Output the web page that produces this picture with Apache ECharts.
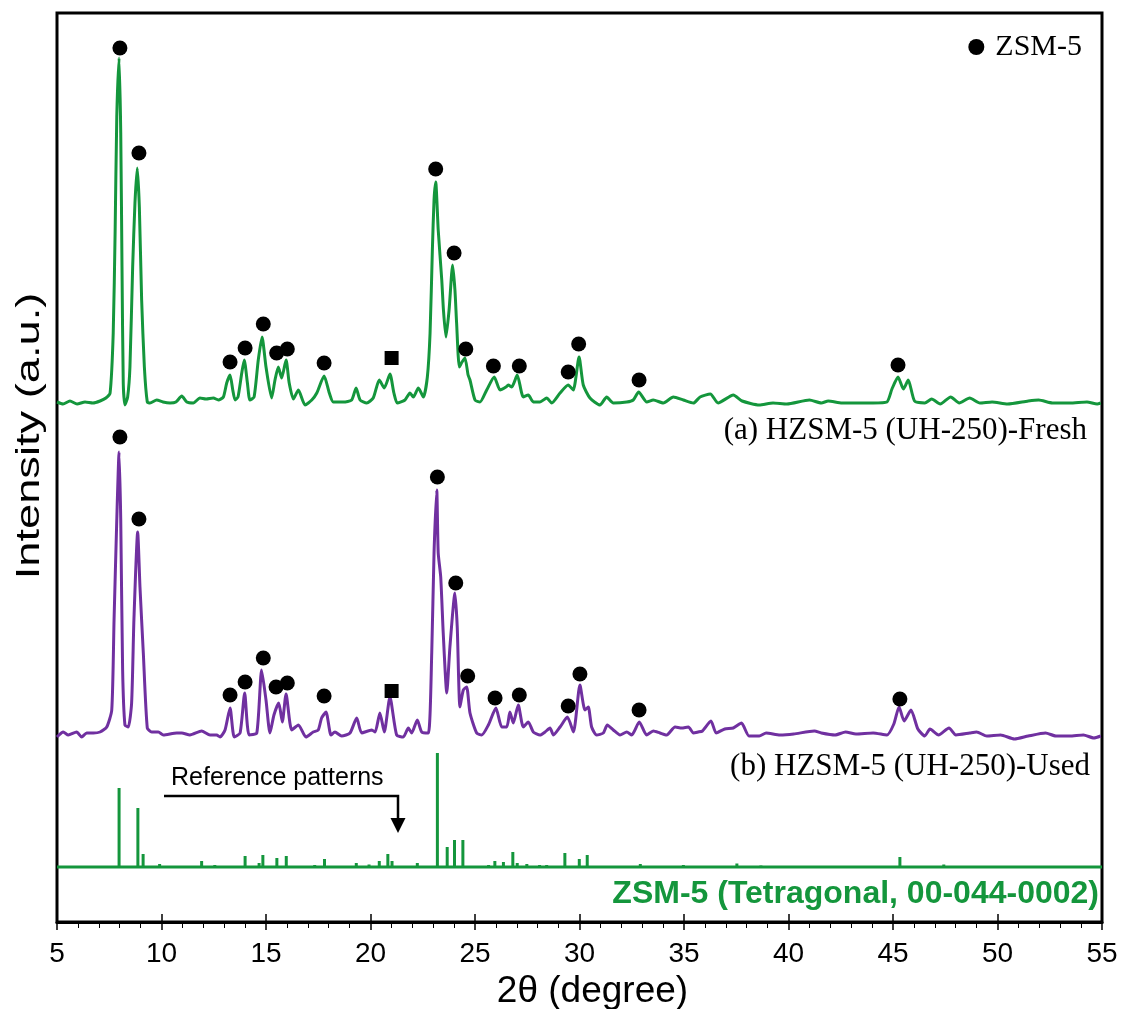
<!DOCTYPE html>
<html>
<head>
<meta charset="utf-8">
<script src="https://cdn.jsdelivr.net/npm/echarts@6/dist/echarts.min.js"></script>
<style>
  html, body { margin: 0; padding: 0; background: #fff; }
  #xrd { width: 1121px; height: 1009px; }
</style>
</head>
<body>
<div id="xrd"></div>
<script>
// [2θ, intensity a.u.]
const freshPattern = [
  [5.00,1],[5.29,-1],[5.62,2],[5.96,-1],[6.34,1],[6.72,0],[7.06,2],[7.34,5],
  [7.54,10],[7.69,70],[7.78,170],[7.86,286],[7.97,345],[8.05,270],[8.11,136],[8.17,20],[8.25,-2],
  [8.38,6],[8.49,36],[8.62,136],[8.73,200],[8.84,235],[8.94,196],[9.05,103],[9.18,36],[9.32,1],
  [9.45,0],[9.77,3],[10.07,1],[10.41,0],[10.69,1],[10.97,7],[11.21,1],[11.52,0],[11.84,5],[12.13,4],
  [12.48,5],[12.72,3],[12.96,6],
  [13.12,20],[13.28,28],[13.41,13],[13.52,3],[13.66,6],[13.84,30],[13.96,43],[14.11,20],[14.23,3],
  [14.43,6],[14.63,43],[14.81,66],[15.00,36],[15.27,5],[15.43,23],[15.59,36],[15.75,25],[15.96,43],
  [16.11,20],[16.31,4],[16.55,13],[16.87,-2],
  [17.19,3],[17.43,10],[17.78,27],[18.03,10],[18.22,1],[18.70,1],[19.10,3],[19.31,15],[19.50,3],
  [19.82,0],[20.13,5],[20.42,23],[20.66,15],[20.93,29],[21.12,10],[21.28,0],[21.65,3],[21.89,10],
  [22.05,6],[22.29,15],[22.53,6],[22.72,26],
  [22.85,70],[22.96,153],[23.04,203],[23.12,221],[23.24,173],[23.41,123],[23.49,93],[23.61,66],
  [23.76,93],[23.93,138],[24.04,113],[24.12,80],[24.25,36],[24.38,41],[24.52,45],[24.67,28],
  [24.76,23],[25.00,3],[25.24,1],
  [25.56,13],[25.92,26],[26.20,13],[26.48,16],[26.59,18],[26.76,16],[27.02,28],[27.31,6],[27.55,8],
  [27.79,1],[28.11,1],[28.43,5],[28.67,0],[29.07,10],[29.46,18],[29.70,13],[29.98,46],
  [30.18,18],[30.50,5],[30.98,-2],[31.30,6],[31.62,0],[32.26,1],[32.57,3],[32.83,11],[33.22,1],
  [33.53,3],[34.01,0],[34.49,6],[34.97,3],[35.45,0],[35.77,6],[36.26,9],[36.63,0],[37.36,8],[37.78,2],
  [38.60,-2],[39.26,0],[39.92,-1],[41.00,3],[41.57,0],[41.90,2],[42.56,0],[43.23,0],[44.04,0],[44.71,1],
  [44.95,14],[45.24,26],[45.50,14],[45.73,23],[46.03,2],[46.52,0],[46.85,4],[47.26,-1],[47.76,6],
  [48.17,0],[48.67,5],[49.16,0],[49.74,1],[50.48,-1],[51.47,2],[51.97,3],[52.63,0],[53.46,0],
  [54.28,1],[54.77,-1],[54.94,0]
];

const usedPattern = [
  [5.00,-2],[5.30,3],[5.54,0],[5.94,3],[6.18,-2],[6.42,2],[6.74,2],[7.06,3],[7.38,8],[7.62,25],
  [7.73,115],[7.86,215],[7.97,283],[8.05,215],[8.14,65],[8.25,10],[8.41,8],[8.57,32],[8.68,115],
  [8.86,203],[8.97,148],[9.13,82],[9.32,7],[9.53,3],[9.85,3],[10.09,0],[10.73,2],[10.97,2],[11.36,0],
  [11.92,4],[12.32,0],[12.64,0],[12.80,-2],[13.04,5],[13.28,27],[13.48,-2],[13.76,2],[13.98,42],
  [14.19,0],[14.56,2],[14.79,65],[15.00,35],[15.19,2],[15.38,20],[15.61,32],[15.78,13],[15.96,41],
  [16.23,5],[16.55,10],[16.91,-2],[17.26,3],[17.50,5],[17.66,17],[17.87,23],[18.11,0],[18.30,3],
  [18.62,-1],[19.02,2],[19.34,17],[19.58,2],[20.06,5],[20.22,3],[20.45,22],[20.66,3],[20.93,38],
  [21.25,0],[21.57,-2],[21.81,7],[21.97,2],[22.24,15],[22.45,3],[22.77,2],[22.93,82],[23.04,182],
  [23.17,245],[23.24,182],[23.36,158],[23.48,102],[23.65,42],[23.80,88],[24.04,142],[24.15,108],
  [24.28,28],[24.44,45],[24.60,48],[24.76,22],[25.08,2],[25.32,0],[25.64,10],[26.00,27],[26.28,8],
  [26.52,8],[26.67,23],[26.83,12],[27.07,30],[27.31,8],[27.55,13],[27.79,3],[28.11,0],[28.35,3],
  [28.59,7],[28.75,0],[29.07,8],[29.42,18],[29.71,3],[30.02,50],[30.26,25],[30.42,28],[30.58,8],
  [30.82,0],[31.14,2],[31.33,10],[31.62,5],[31.94,0],[32.26,3],[32.50,0],[32.86,13],[33.21,0],
  [33.53,4],[33.85,2],[34.17,0],[34.57,8],[34.89,7],[35.21,8],[35.45,2],[35.68,3],[35.88,4],
  [36.29,14],[36.54,2],[36.95,6],[37.36,7],[37.75,12],[38.11,-1],[38.60,-1],[38.93,2],[39.59,0],
  [40.25,1],[41.24,4],[41.57,2],[42.23,0],[42.73,3],[43.23,1],[44.05,2],[44.71,0],[45.04,11],
  [45.29,28],[45.53,14],[45.86,25],[46.19,6],[46.52,-1],[46.77,6],[47.18,0],[47.68,7],[48.01,0],
  [48.67,2],[49.00,3],[49.49,-1],[50.15,0],[50.81,-4],[51.47,-1],[52.30,2],[52.79,-1],[53.45,-1],
  [54.11,0],[54.61,-3],[54.94,-1]
];

// ZSM-5 reference card 00-044-0002, [2θ, relative intensity]
const refLines = [
  [7.97,79],[8.87,59],[9.12,13],[9.91,3],[11.92,6],[12.55,2],[14.00,11],[14.67,4],[14.85,12],
  [15.52,9],[15.97,11],[17.33,2],[17.80,8],[19.32,4],[19.93,2.5],[20.42,6],[20.83,13],[21.03,6],
  [22.24,4],[23.20,114],[23.67,20],[24.02,27],[24.42,27],[25.65,2],[25.95,6],[26.36,5],[26.81,15],
  [27.02,4],[27.48,3],[28.09,2],[28.43,2],[29.30,14],[29.99,8],[30.37,12],[32.91,3],[34.97,2],
  [37.53,3.5],[38.68,1.5],[45.33,10],[47.43,2.5]
];

// peak markers: [2θ, height above baseline]
const freshZsmMarks = [
  [8.01,355],[8.92,250],[13.28,41],[14.00,55],[14.87,79],[15.51,50],[16.02,54],[17.78,40],
  [23.12,234],[24.00,150],[24.56,54],[25.88,37],[27.12,37],[29.46,31],[29.96,59],[32.85,23],[45.24,38]
];
const usedZsmMarks = [
  [8.01,298],[8.92,216],[13.28,40],[14.00,53],[14.87,77],[15.48,48],[16.02,52],[17.78,39],
  [23.20,258],[24.08,152],[24.65,59],[25.96,37],[27.12,40],[29.46,29],[30.02,61],[32.85,25],[45.33,36]
];
const freshOtherMarks = [[21.01,45]];
const usedOtherMarks = [[21.01,44]];

// vertical stacking of the three traces
const FRESH_SHIFT = 519;
const USED_SHIFT = 187;
const REF_SHIFT = 55;

const GREEN = '#14963c';
const PURPLE = '#7030a0';
const SANS = '"Liberation Sans", Arial, sans-serif';
const SERIF = '"Liberation Serif", "Times New Roman", serif';

const shift = (arr, s) => arr.map(p => [p[0], p[1] + s]);

const chart = echarts.init(document.getElementById('xrd'));

const option = {
  animation: false,
  backgroundColor: '#fff',
  grid: {
    left: 57, right: 19, top: 13, bottom: 87,
    outerBoundsMode: 'none',
    show: true, borderColor: '#000', borderWidth: 3
  },
  legend: {
    data: ['ZSM-5'],
    right: 34, top: 27,
    itemWidth: 16, itemHeight: 16,
    textStyle: { fontFamily: SERIF, fontSize: 30, color: '#000', padding: [0, 0, 0, 6] }
  },
  xAxis: [
    {
      type: 'value', min: 5, max: 55, interval: 5, position: 'bottom',
      axisLine: { lineStyle: { color: '#000', width: 3 } },
      axisTick: { inside: false, length: 8, lineStyle: { color: '#000', width: 1.5 } },
      minorTick: { show: true, splitNumber: 5, length: 6, lineStyle: { color: '#000', width: 1 } },
      splitLine: { show: false },
      axisLabel: { fontFamily: SANS, fontSize: 28, color: '#000', margin: 18 },
      name: '2θ (degree)', nameLocation: 'middle', nameGap: 50,
      nameTextStyle: { fontFamily: SANS, fontSize: 37, color: '#000', padding: [0, 0, 0, 26] }
    },
    {
      type: 'value', min: 5, max: 55, interval: 5, position: 'bottom',
      axisLine: { show: false },
      axisTick: { inside: true, length: 8, lineStyle: { color: '#000', width: 1.5 } },
      axisLabel: { show: false },
      splitLine: { show: false }
    }
  ],
  yAxis: { type: 'value', min: 0, max: 909, show: false },
  series: [
    {
      name: 'Fresh', type: 'line', data: shift(freshPattern, FRESH_SHIFT),
      showSymbol: false, smooth: 0.2, lineStyle: { color: GREEN, width: 3 }, z: 2
    },
    {
      name: 'Used', type: 'line', data: shift(usedPattern, USED_SHIFT),
      showSymbol: false, smooth: 0.2, lineStyle: { color: PURPLE, width: 3 }, z: 2
    },
    {
      name: 'refBase', type: 'line', data: [[5, REF_SHIFT], [55, REF_SHIFT]],
      showSymbol: false, lineStyle: { color: GREEN, width: 3 }, z: 2
    },
    {
      name: 'refLines', type: 'custom', data: refLines, z: 3,
      renderItem: (params, api) => {
        const base = api.coord([api.value(0), REF_SHIFT]);
        const top = api.coord([api.value(0), REF_SHIFT + api.value(1)]);
        return {
          type: 'line',
          shape: { x1: base[0], y1: base[1], x2: top[0], y2: top[1] },
          style: { stroke: GREEN, lineWidth: 3 }
        };
      }
    },
    {
      name: 'ZSM-5', type: 'scatter', symbol: 'circle', symbolSize: 15,
      itemStyle: { color: '#000', opacity: 1 }, z: 5,
      data: shift(freshZsmMarks, FRESH_SHIFT).concat(shift(usedZsmMarks, USED_SHIFT))
    },
    {
      name: 'other', type: 'scatter', symbol: 'rect', symbolSize: 14,
      itemStyle: { color: '#000', opacity: 1 }, z: 5,
      data: shift(freshOtherMarks, FRESH_SHIFT).concat(shift(usedOtherMarks, USED_SHIFT))
    }
  ],
  graphic: [
    {
      type: 'text', x: 30, y: 436, rotation: Math.PI / 2, scaleX: 1.33,
      style: { text: 'Intensity (a.u.)', font: '34px ' + SANS, fill: '#000', align: 'center', verticalAlign: 'middle' }
    },
    {
      type: 'text', x: 1087, y: 431,
      style: { text: '(a) HZSM-5 (UH-250)-Fresh', font: '31px ' + SERIF, fill: '#000', align: 'right', verticalAlign: 'middle' }
    },
    {
      type: 'text', x: 1090, y: 767,
      style: { text: '(b) HZSM-5 (UH-250)-Used', font: '31px ' + SERIF, fill: '#000', align: 'right', verticalAlign: 'middle' }
    },
    {
      type: 'text', x: 171, y: 778,
      style: { text: 'Reference patterns', font: '25px ' + SANS, fill: '#000', align: 'left', verticalAlign: 'middle' }
    },
    {
      type: 'polyline',
      shape: { points: [[164, 796], [398, 796], [398, 820]] },
      style: { stroke: '#000', lineWidth: 2.5, fill: null }
    },
    {
      type: 'polygon',
      shape: { points: [[390.5, 818], [405.5, 818], [398, 833]] },
      style: { fill: '#000' }
    },
    {
      type: 'text', x: 1099, y: 894,
      style: { text: 'ZSM-5 (Tetragonal, 00-044-0002)', font: 'bold 32px ' + SANS, fill: GREEN, align: 'right', verticalAlign: 'middle' }
    }
  ]
};

chart.setOption(option);
</script>
</body>
</html>
